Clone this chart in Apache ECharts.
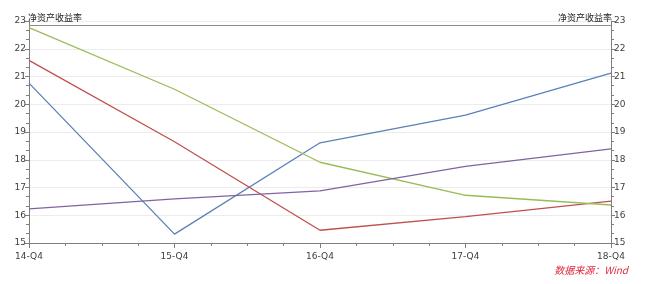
<!DOCTYPE html>
<html>
<head>
<meta charset="utf-8">
<script src="https://cdn.jsdelivr.net/npm/echarts@6/dist/echarts.min.js"></script>
<style>
html,body{margin:0;padding:0;background:#fff;}
#c{width:654px;height:284px;}
</style>
</head>
<body>
<div id="c"></div>
<script>
var categories = ['14-Q4', '15-Q4', '16-Q4', '17-Q4', '18-Q4'];
var blueSeries = [20.76, 15.32, 18.61, 19.61, 21.12];
var redSeries = [21.58, 18.65, 15.46, 15.95, 16.51];
var greenSeries = [22.76, 20.54, 17.91, 16.72, 16.37];
var purpleSeries = [16.23, 16.59, 16.88, 17.76, 18.39];
var yMin = 15, yMax = 23, yStep = 1;
var axisName = '净资产收益率';
var sourceText = '数据来源：Wind';

var font = 'DejaVu Sans, Noto Sans CJK SC, sans-serif';
var chart = echarts.init(document.getElementById('c'));
function yAxis(pos) {
  return {
    type: 'value', position: pos, min: yMin, max: yMax, interval: yStep,
    name: axisName, nameLocation: 'end', nameGap: -1, nameMoveOverlap: false,
    nameTextStyle: {color: '#222', fontSize: 9, fontFamily: 'Noto Sans CJK SC', align: pos === 'left' ? 'left' : 'right', padding: pos === 'left' ? [0,0,0,-1] : [0,-1,0,0]},
    axisLine: {show: true, lineStyle: {color: '#7f7f7f', width: 1}},
    axisTick: {show: true, length: 4, lineStyle: {color: '#7f7f7f'}},
    minorTick: {show: true, splitNumber: 3, length: 3, lineStyle: {color: '#7f7f7f'}},
    axisLabel: {color: '#404040', fontSize: 9, fontFamily: font, margin: 3},
    splitLine: {show: pos === 'left', lineStyle: {color: '#ececec', width: 1}}
  };
}
function line(name, data, color, extra) {
  var s = {name: name, type: 'line', data: data, symbol: 'none', smooth: false,
    lineStyle: {color: color, width: 1.3}, itemStyle: {color: color}, z: 3};
  if (extra) Object.assign(s, extra);
  return s;
}
chart.setOption({
  animation: false,
  backgroundColor: '#fff',
  grid: {left: 29, right: 43, top: 21, bottom: 41},
  xAxis: [{
    type: 'category', data: categories, boundaryGap: false,
    axisLine: {show: true, onZero: false, lineStyle: {color: '#7f7f7f', width: 1}},
    axisTick: {show: true, length: 5, lineStyle: {color: '#7f7f7f'}},
    axisLabel: {color: '#404040', fontSize: 9, fontFamily: font, margin: 9},
    splitLine: {show: false}
  }, {
    type: 'value', position: 'bottom', min: 0, max: categories.length - 1, interval: 1,
    axisLine: {show: false}, axisLabel: {show: false},
    axisTick: {show: false},
    minorTick: {show: true, splitNumber: 4, length: 3, lineStyle: {color: '#7f7f7f'}},
    splitLine: {show: false}
  }],
  yAxis: [yAxis('left'), yAxis('right')],
  graphic: [{
    type: 'text', right: 26, top: 265,
    style: {text: sourceText, fill: '#e0283a', fontSize: 10, fontStyle: 'italic', fontFamily: 'Noto Sans CJK SC, sans-serif'}
  }],
  series: [
    line('blue', blueSeries, '#5b80b8', {markLine: {silent: true, symbol: 'none', label: {show: false},
      lineStyle: {color: '#8c8c8c', type: 'solid', width: 1}, data: [{yAxis: 22.86}]}}),
    line('red', redSeries, '#c0504d'),
    line('green', greenSeries, '#9bbb59'),
    line('purple', purpleSeries, '#8064a2')
  ]
});
</script>
</body>
</html>
